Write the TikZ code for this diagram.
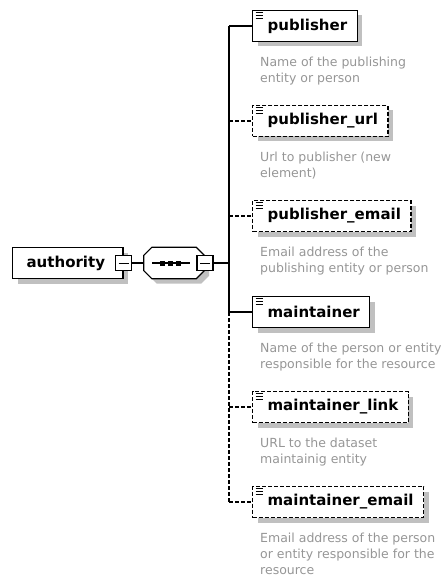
\documentclass[tikz,border=0pt]{standalone}
\usepackage{fontspec}
\setmainfont{DejaVu Sans}
\usetikzlibrary{shadows}
\definecolor{descgray}{RGB}{150,150,150}
\definecolor{shadowgray}{RGB}{192,192,192}

% child element: name, label, y, req/opt, description
\newcommand{\childelem}[5]{
    \node[elem, docicon, #4] (#1) at (252,#3) {\hspace*{5pt}#2};
    \node[descr] (#1-desc) at ([shift={(8,14.5)}]#1.south west) {#5};
    \draw[link, #4] (#1.west -| bus) -- (#1.west);
}

\tikzset{
    link/.style={line width=1.2pt},
    req/.style={solid},
    opt/.style={dash pattern=on 4pt off 2pt},
    boxshadow/.style={drop shadow={shadow xshift=5pt, shadow yshift=-5pt, fill=shadowgray, opacity=1}},
    elem/.style={draw, fill=white, line width=1.2pt, anchor=west,
        minimum height=31pt, inner ysep=0pt, inner xsep=10pt,
        font=\fontsize{15}{17}\selectfont\bfseries, boxshadow},
    docicon/.style={path picture={
        \draw[solid, line width=0.8pt] ([shift={(3pt,-2pt)}]path picture bounding box.north west) -- ++(7pt,0pt);
        \draw[solid, line width=0.8pt] ([shift={(3pt,-5pt)}]path picture bounding box.north west) -- ++(7pt,0pt);
        \draw[solid, line width=0.8pt] ([shift={(3pt,-8pt)}]path picture bounding box.north west) -- ++(7pt,0pt);
    }},
    descr/.style={anchor=north west, inner sep=0pt, align=left, text=descgray,
        font=\fontsize{12.5}{16}\selectfont},
    togglebox/.style={draw, fill=white, line width=1.2pt, minimum width=16pt,
        minimum height=15pt, inner sep=0pt,
        path picture={\draw[line width=1pt] ([xshift=3pt]path picture bounding box.west) -- ([xshift=-3pt]path picture bounding box.east);}},
    seqbox/.style={minimum width=60pt, minimum height=31pt, inner sep=0pt}
}

\begin{document}
\begin{tikzpicture}[x=1pt, y=-1pt]
    \useasboundingbox (0,0) rectangle (447,577);

    % root element and its sequence
    \node[elem] (authority) at (12,263) {\hspace*{4pt}authority\hspace*{8pt}};
    \node[togglebox] (authToggle) at (authority.east) {};
    \node[seqbox] (seq) at (174,263) {};
    \draw[line width=1.2pt, fill=white, boxshadow]
        ([shift={(8,0)}]seq.north west) -- ([shift={(-8,0)}]seq.north east)
        -- ([shift={(0,8)}]seq.north east) -- ([shift={(0,-8)}]seq.south east)
        -- ([shift={(-8,0)}]seq.south east) -- ([shift={(8,0)}]seq.south west)
        -- ([shift={(0,-8)}]seq.south west) -- ([shift={(0,8)}]seq.north west) -- cycle;
    \node[togglebox] (seqToggle) at (205,263) {};
    \coordinate (bus) at (229,263);
    \draw[link] (authToggle) -- (seq);
    \draw[link] (seqToggle) -- (bus);

    % sequence icon
    \draw[line width=1.2pt] ([xshift=-22pt]seq.center) -- ([xshift=16pt]seq.center);
    \foreach \dx in {-11.5,-3.5,4.5}
        \fill ([shift={(\dx-2.5,-2.5)}]seq.center) rectangle ++(5,5);

    % child elements
    \childelem{pub}{publisher}{26}{req}{Name of the publishing\\entity or person}
    \childelem{pubUrl}{publisher\_url}{121}{opt}{Url to publisher (new\\element)}
    \childelem{pubMail}{publisher\_email}{216}{opt}{Email address of the\\publishing entity or person}
    \childelem{mnt}{maintainer}{312}{req}{Name of the person or entity\\responsible for the resource}
    \childelem{mntLink}{maintainer\_link}{407}{opt}{URL to the dataset\\maintainig entity}
    \childelem{mntMail}{maintainer\_email}{502}{opt}{Email address of the person\\or entity responsible for the\\resource}

    % vertical bus
    \draw[link] (pub.west -| bus) -- (mnt.west -| bus);
    \draw[link, opt] (mnt.west -| bus) -- (mntMail.west -| bus);
\end{tikzpicture}
\end{document}
